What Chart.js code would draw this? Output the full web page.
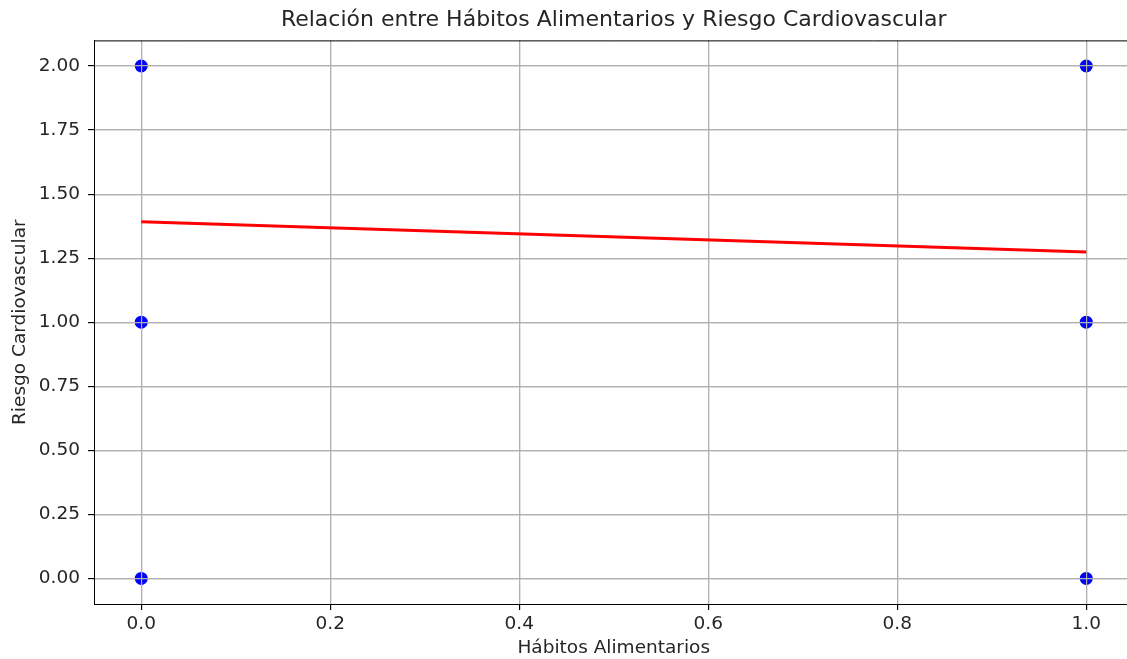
<!DOCTYPE html>
<html>
<head>
<meta charset="utf-8">
<script src="https://cdn.jsdelivr.net/npm/chart.js@4.4.0/dist/chart.umd.min.js"></script>
<style>
  html, body { margin: 0; padding: 0; background: #fff; overflow: hidden; }
  #wrap { width: 1140px; height: 659px; }
</style>
</head>
<body>
<div id="wrap"><canvas id="myChart"></canvas></div>
<script>
// puntos observados (habitos, riesgo)
const habitos = [0, 0, 0, 1, 1, 1];
const riesgo = [2, 1, 0, 2, 1, 0];

// recta de regresion
const lineaX = [0, 1];
const lineaY = [1.392, 1.274];

const xTicks = [0, 0.2, 0.4, 0.6, 0.8, 1.0];
const yTicks = [0, 0.25, 0.5, 0.75, 1.0, 1.25, 1.5, 1.75, 2.0];

const FONT = "'DejaVu Sans', sans-serif";
const GRID = '#b0b0b0';
const TXT = '#262626';

// matplotlib pone la rejilla encima de los puntos pero debajo de la linea
const gridOverScatter = {
  id: 'gridOverScatter',
  afterDatasetDraw(chart, args) {
    if (args.index !== 0) return;
    const ctx = chart.ctx;
    ctx.save();
    chart.scales.x.drawGrid(chart.chartArea);
    chart.scales.y.drawGrid(chart.chartArea);
    ctx.restore();
  }
};

const topSpine = {
  id: 'topSpine',
  afterDraw(chart) {
    const a = chart.chartArea, ctx = chart.ctx;
    ctx.save();
    ctx.strokeStyle = '#000';
    ctx.lineWidth = 1;
    ctx.beginPath();
    ctx.moveTo(a.left, a.top + 0.5);
    ctx.lineTo(a.right, a.top + 0.5);
    ctx.stroke();
    ctx.restore();
  }
};

const data = {
  datasets: [
    {
      type: 'scatter',
      data: habitos.map((h, i) => ({ x: h, y: riesgo[i] })),
      backgroundColor: '#0000ff',
      borderWidth: 0,
      pointRadius: 6.5,
      order: 2
    },
    {
      type: 'line',
      data: lineaX.map((x, i) => ({ x: x, y: lineaY[i] })),
      borderColor: '#ff0000',
      borderWidth: 3,
      pointRadius: 0,
      fill: false,
      order: 1
    }
  ]
};

const config = {
  type: 'scatter',
  data: data,
  options: {
    responsive: true,
    maintainAspectRatio: false,
    animation: false,
    layout: { padding: { left: 0, right: 0, top: 0, bottom: 0 } },
    plugins: {
      legend: { display: false },
      tooltip: { enabled: false },
      title: {
        display: true,
        fullSize: false,
        text: 'Relación entre Hábitos Alimentarios y Riesgo Cardiovascular',
        color: TXT,
        font: { family: FONT, size: 22, weight: 'normal' },
        padding: { top: 7, bottom: 7 }
      }
    },
    scales: {
      x: {
        type: 'linear',
        min: -0.05,
        max: 1.05,
        afterBuildTicks: s => { s.ticks = xTicks.map(v => ({ value: v })); },
        afterFit: s => { s.height = 55; },
        ticks: {
          color: TXT,
          font: { family: FONT, size: 18.5 },
          padding: 3,
          maxRotation: 0,
          callback: v => Number(v).toFixed(1)
        },
        grid: { color: GRID, lineWidth: 1.2, tickColor: '#000', tickLength: 6, tickWidth: 1 },
        border: { display: true, color: '#000', width: 1 },
        title: {
          display: true,
          text: 'Hábitos Alimentarios',
          color: TXT,
          font: { family: FONT, size: 18.5 },
          padding: { top: 0, bottom: 0 }
        }
      },
      y: {
        type: 'linear',
        min: -0.1,
        max: 2.1,
        afterBuildTicks: s => { s.ticks = yTicks.map(v => ({ value: v })); },
        afterFit: s => { s.width = 94; },
        ticks: {
          color: TXT,
          font: { family: FONT, size: 18.5 },
          padding: 8,
          callback: v => Number(v).toFixed(2)
        },
        grid: { color: GRID, lineWidth: 1.2, tickColor: '#000', tickLength: 6, tickWidth: 1 },
        border: { display: true, color: '#000', width: 1 },
        title: {
          display: true,
          text: 'Riesgo Cardiovascular',
          color: TXT,
          font: { family: FONT, size: 18.5 },
          padding: { top: 9, bottom: 4 }
        }
      }
    }
  },
  plugins: [gridOverScatter, topSpine]
};

const myChart = new Chart(document.getElementById('myChart'), config);
</script>
</body>
</html>
